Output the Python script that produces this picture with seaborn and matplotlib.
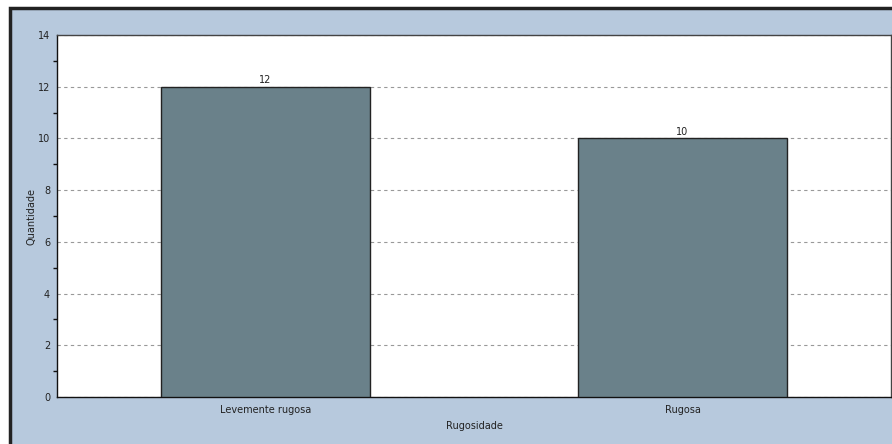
import matplotlib
matplotlib.use("Agg")
import matplotlib.pyplot as plt
import seaborn as sns
import pandas as pd
from matplotlib.patches import Rectangle
from matplotlib.ticker import MultipleLocator

categorias = ["Levemente rugosa", "Rugosa"]
quantidades = [12, 10]

df = pd.DataFrame({"Rugosidade": categorias, "Quantidade": quantidades})

sns.set_style("white")
plt.rcParams["font.family"] = ["DejaVu Sans"]

fig = plt.figure(figsize=(8.92, 4.44), dpi=100)
fig.patch.set_facecolor("white")

# moldura azul do painel
fig.patches.append(Rectangle((10 / 892, -0.05), 1.0, (444 - 8) / 444 + 0.05,
                             transform=fig.transFigure, facecolor="#b7c9dd",
                             edgecolor="#222222", linewidth=2.5, zorder=-10))

ax = fig.add_axes([57 / 892, 47 / 444, 834 / 892, 362 / 444])
ax.set_facecolor("white")

sns.barplot(data=df, x="Rugosidade", y="Quantidade", color="#6a818a",
            saturation=1, width=0.5, edgecolor="#222222", linewidth=1, ax=ax, zorder=3)

for i, v in enumerate(quantidades):
    ax.text(i, v + 0.05, str(v), ha="center", va="bottom", fontsize=7, color="#222222")

ax.set_xlim(-0.5, 1.5)
ax.set_ylim(0, 14)
ax.yaxis.set_major_locator(MultipleLocator(2))
ax.yaxis.set_minor_locator(MultipleLocator(1))
ax.grid(axis="y", which="major", linestyle=(0, (3, 3)), color="#999999", linewidth=0.8, zorder=0)

for s in ["top", "right"]:
    ax.spines[s].set_visible(True)
    ax.spines[s].set_color("#444444")
ax.spines["left"].set_color("#111111")
ax.spines["bottom"].set_color("#111111")
for s in ax.spines.values():
    s.set_linewidth(1)

ax.tick_params(axis="both", which="both", direction="out", color="#111111",
               labelsize=7, labelcolor="#222222")
ax.tick_params(axis="y", which="major", length=4, width=1, pad=1)
ax.tick_params(axis="y", which="minor", length=3, width=1, left=True)
ax.tick_params(axis="x", length=3, width=1, pad=3)

ax.set_xlabel("Rugosidade", fontsize=7, color="#222222", labelpad=4)
ax.set_ylabel("Quantidade", fontsize=7, color="#222222", labelpad=1)

fig.savefig("out.png", dpi=100)
